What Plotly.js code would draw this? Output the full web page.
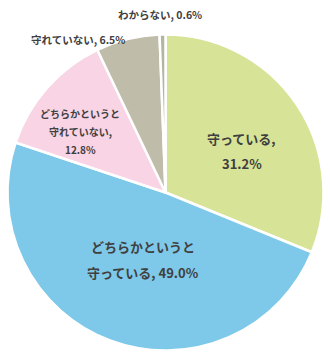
<!DOCTYPE html>
<html>
<head>
<meta charset="utf-8">
<script src="https://cdn.plot.ly/plotly-3.0.1.min.js"></script>
<style>html,body{margin:0;padding:0;background:#fff;}#chart{width:330px;height:357px;}</style>
</head>
<body>
<div id="chart"></div>
<script>
var categories = ["守っている", "どちらかというと守っている", "どちらかというと守れていない", "守れていない", "わからない"];
var values = [31.2, 49.0, 12.8, 6.5, 0.6];
var colors = ["#d7e397", "#7ec9e9", "#f8d4e4", "#bfbdaa", "#b5b59d"];
// each slice label, split into its display lines
var labelLines = [
  ["守っている,", "31.2%"],
  ["どちらかというと", "守っている, 49.0%"],
  ["どちらかというと", "守れていない,", "12.8%"],
  ["守れていない, 6.5%"],
  ["わからない, 0.6%"]
];
// [center x, first-line y, line gap, font size] in pixels
var labelPos = [[242, 139, 25, 13], [143, 246, 26, 13], [80, 113, 18, 10], [78, 39, 0, 10.5], [160, 15, 0, 10.5]];

var W = 330, H = 357;
var cx = 165.5, cy = 192.5, r = 158;

var trace = {
  type: "pie",
  labels: categories,
  values: values,
  sort: false,
  direction: "clockwise",
  rotation: 0,
  textinfo: "none",
  hoverinfo: "label+percent",
  marker: {colors: colors, line: {color: "#ffffff", width: 2.5}},
  domain: {x: [(cx - r) / W, (cx + r) / W], y: [(H - cy - r) / H, (H - cy + r) / H]},
  showlegend: false
};

var annotations = [];
labelLines.forEach(function (lines, i) {
  var p = labelPos[i];
  lines.forEach(function (t, j) {
    annotations.push({
      text: t,
      x: p[0] / W,
      y: 1 - (p[1] + j * p[2]) / H,
      xref: "paper", yref: "paper",
      xanchor: "center", yanchor: "middle",
      showarrow: false,
      align: "center",
      font: {family: "Noto Sans CJK JP", size: p[3], color: "#404040", weight: "bold"}
    });
  });
});

Plotly.newPlot("chart", [trace], {
  width: W, height: H,
  margin: {l: 0, r: 0, t: 0, b: 0},
  paper_bgcolor: "#ffffff",
  annotations: annotations
}, {displayModeBar: false, staticPlot: true});
</script>
</body>
</html>
